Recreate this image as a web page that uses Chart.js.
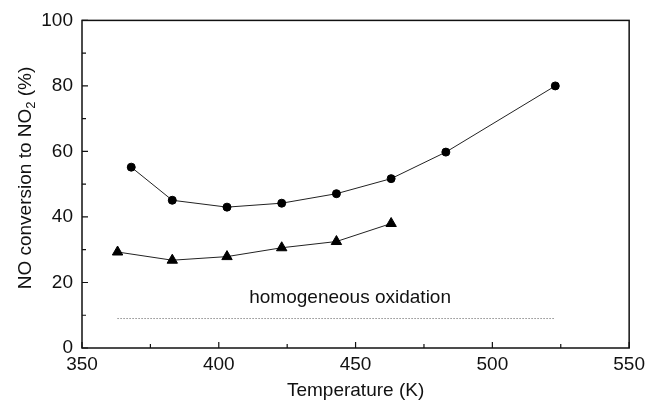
<!DOCTYPE html>
<html>
<head>
<meta charset="utf-8">
<script src="https://cdn.jsdelivr.net/npm/chart.js@4/dist/chart.umd.min.js"></script>
<style>
  html, body { margin: 0; padding: 0; background: #fff; }
  #wrap { width: 650px; height: 406px; }
</style>
</head>
<body>
<div id="wrap"><canvas id="chart"></canvas></div>
<script>
// data
const circleX = [368, 383, 403, 423, 443, 463, 483, 523];
const circleY = [55.2, 45.1, 43.0, 44.2, 47.1, 51.7, 59.8, 80.0];
const triX = [363, 383, 403, 423, 443, 463];
const triY = [29.3, 26.8, 27.9, 30.6, 32.5, 38.0];
const homX = [363, 523];
const homY = [9, 9];
const xTicks = [350, 400, 450, 500, 550];
const yTicks = [0, 20, 40, 60, 80, 100];
const noteText = "homogeneous oxidation";
const notePos = [448, 13.6];

const FONT = "Liberation Sans, Arial, sans-serif";
const toPts = (xs, ys) => xs.map((x, i) => ({ x, y: ys[i] }));

// frame, inward ticks, axis titles and the note
const decor = {
  id: "decor",
  afterDraw(chart) {
    const { ctx, chartArea: a, scales } = chart;
    const xs = scales.x, ys = scales.y;
    ctx.save();
    ctx.strokeStyle = "#111";
    ctx.lineWidth = 1.5;
    ctx.strokeRect(a.left, a.top, a.right - a.left, a.bottom - a.top);

    ctx.lineWidth = 1.2;
    ctx.beginPath();
    for (let v = 350; v <= 550; v += 25) {
      const px = xs.getPixelForValue(v);
      const len = xTicks.includes(v) ? 6 : 4;
      ctx.moveTo(px, a.bottom); ctx.lineTo(px, a.bottom - len);
    }
    for (let v = 0; v <= 100; v += 10) {
      const py = ys.getPixelForValue(v);
      const len = yTicks.includes(v) ? 6 : 4;
      ctx.moveTo(a.left, py); ctx.lineTo(a.left + len, py);
    }
    ctx.stroke();

    ctx.fillStyle = "#111";
    ctx.font = `19px ${FONT}`;
    // note
    ctx.textAlign = "center";
    ctx.textBaseline = "alphabetic";
    ctx.fillText(noteText, xs.getPixelForValue(notePos[0]), ys.getPixelForValue(notePos[1]));

    // x title
    ctx.fillText("Temperature (K)", (a.left + a.right) / 2, 396);

    // y title with subscript
    const parts = [["NO conversion to NO", 19, 0], ["2", 13, 4], [" (%)", 19, 0]];
    let total = 0;
    parts.forEach(p => { ctx.font = `${p[1]}px ${FONT}`; total += ctx.measureText(p[0]).width; });
    ctx.translate(31, 178);
    ctx.rotate(-Math.PI / 2);
    ctx.textAlign = "left";
    let cx = -total / 2;
    parts.forEach(p => {
      ctx.font = `${p[1]}px ${FONT}`;
      ctx.fillText(p[0], cx, p[2]);
      cx += ctx.measureText(p[0]).width;
    });
    ctx.restore();
  }
};

new Chart(document.getElementById("chart"), {
  type: "scatter",
  data: {
    datasets: [
      {
        data: toPts(circleX, circleY),
        showLine: true,
        borderColor: "#222",
        borderWidth: 1,
        backgroundColor: "#000",
        pointStyle: "circle",
        pointRadius: 4,
        pointBorderWidth: 1,
        pointBorderColor: "#000"
      },
      {
        data: toPts(triX, triY),
        showLine: true,
        borderColor: "#222",
        borderWidth: 1,
        backgroundColor: "#000",
        pointStyle: "triangle",
        pointRadius: 6,
        pointBorderWidth: 1,
        pointBorderColor: "#000"
      },
      {
        data: toPts(homX, homY),
        showLine: true,
        borderColor: "#555",
        borderWidth: 1,
        borderDash: [1, 2],
        pointRadius: 0
      }
    ]
  },
  options: {
    responsive: true,
    maintainAspectRatio: false,
    animation: false,
    layout: { padding: { left: 0, right: 20, top: 18, bottom: 0 } },
    plugins: { legend: { display: false }, tooltip: { enabled: false } },
    scales: {
      x: {
        type: "linear",
        min: 350, max: 550,
        grid: { display: false, drawTicks: false },
        border: { display: false },
        ticks: { stepSize: 50, padding: 5, color: "#111", font: { family: FONT, size: 19 }, maxRotation: 0 },
        afterFit: (s) => { s.height = 58; }
      },
      y: {
        min: 0, max: 100,
        grid: { display: false, drawTicks: false },
        border: { display: false },
        ticks: { stepSize: 20, padding: 9, color: "#111", font: { family: FONT, size: 19 } },
        afterFit: (s) => { s.width = 82; }
      }
    }
  },
  plugins: [decor]
});
</script>
</body>
</html>
